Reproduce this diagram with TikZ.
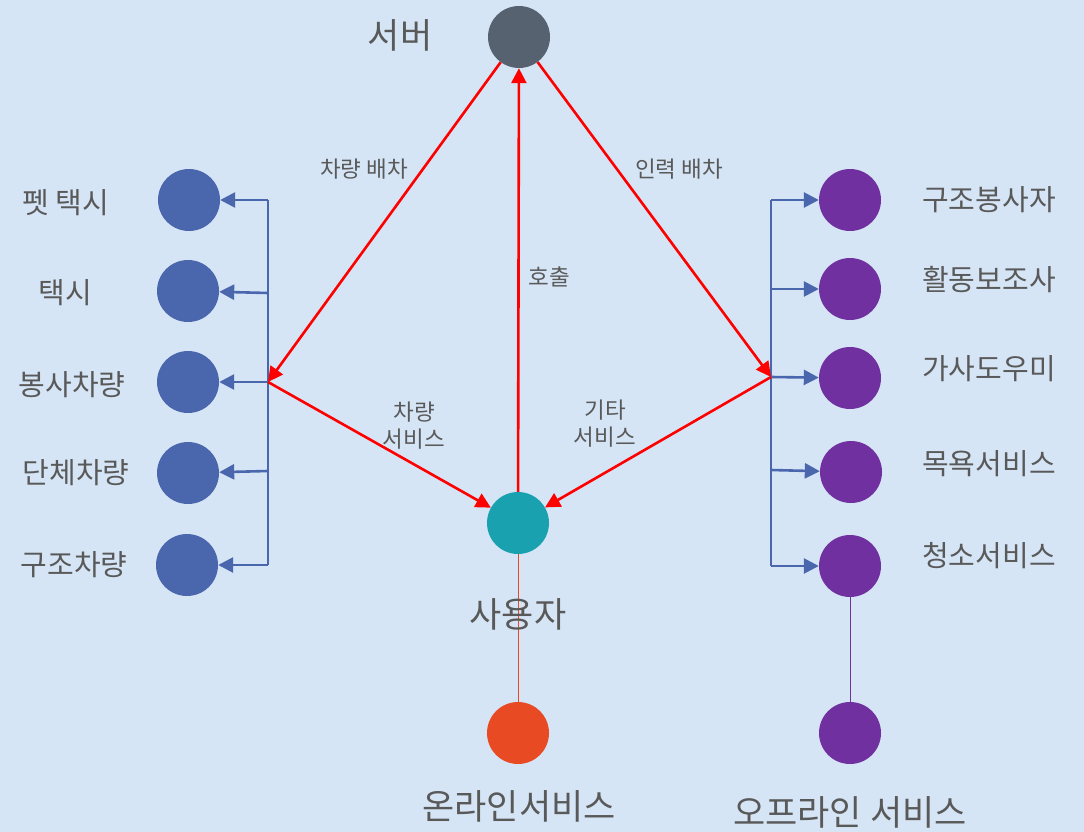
\documentclass[tikz,border=0pt]{standalone}
\usepackage{fontspec}
\setmainfont{Noto Sans CJK KR}
\usetikzlibrary{arrows.meta}
\definecolor{bg}{HTML}{D5E5F5}
\definecolor{srv}{HTML}{566270}
\definecolor{usr}{HTML}{1AA1B0}
\definecolor{onl}{HTML}{E84A23}
\definecolor{prp}{HTML}{7030A0}
\definecolor{blu}{HTML}{4A66AC}
\definecolor{txt}{HTML}{595959}
\tikzset{
  dot/.style={circle, minimum size=62pt, inner sep=0pt, draw=none, fill=#1},
  redarr/.style={draw=red, line width=2.6pt, -{Triangle[length=15pt,width=15pt]}},
  bluarr/.style={draw=blu, line width=2.6pt, -{Triangle[length=15pt,width=15pt]}},
  bluln/.style={draw=blu, line width=2.6pt},
  lbl/.style={text=txt, font=\fontsize{22.5}{27}\selectfont, align=center},
  side/.style={text=txt, font=\fontsize{29}{31}\selectfont},
  big/.style={text=txt, font=\fontsize{35}{37}\selectfont},
}
\begin{document}
\begin{tikzpicture}[x=1pt,y=-1pt]
\fill[bg] (0,0) rectangle (1084,832);
\useasboundingbox (0,0) rectangle (1084,832);
% main nodes
\node[dot=srv] (srv) at (519,37) {};
\node[dot=usr] (usr) at (518,523) {};
\node[dot=onl] (onl) at (518,733) {};
\node[dot=prp] (off) at (850,733) {};
% left circles
\node[dot=blu] (l1) at (189,200) {};
\node[dot=blu] (l2) at (188,291) {};
\node[dot=blu] (l3) at (188,382) {};
\node[dot=blu] (l4) at (188,473) {};
\node[dot=blu] (l5) at (187,565) {};
% right circles
\node[dot=prp] (r1) at (850,200) {};
\node[dot=prp] (r2) at (850,289) {};
\node[dot=prp] (r3) at (850,378) {};
\node[dot=prp] (r4) at (851,472) {};
\node[dot=prp] (r5) at (850,566) {};
% bracket coordinates
\coordinate (lt) at (268,200);
\coordinate (lb2) at (268,293);
\coordinate (lm) at (268,382);
\coordinate (lb4) at (268,471);
\coordinate (lb) at (268,565);
\coordinate (rt) at (771,200);
\coordinate (rb2) at (771,289);
\coordinate (rm) at (771,377);
\coordinate (rb4) at (771,470);
\coordinate (rb) at (771,566);
% thin lines to bottom
\draw[onl, line width=1pt] (usr) -- (onl);
\draw[prp, line width=1pt] (r5) -- (off);
% left bracket
\draw[bluln] (lt) -- (lb);
\draw[bluarr] (lt) -- (l1);
\draw[bluarr] (lb2) -- (l2);
\draw[bluarr] (lm) -- (l3);
\draw[bluarr] (lb4) -- (l4);
\draw[bluarr] (lb) -- (l5);
% right bracket
\draw[bluln] (rt) -- (rb);
\draw[bluarr] (rt) -- (r1);
\draw[bluarr] (rb2) -- (r2);
\draw[bluarr] (rm) -- (r3);
\draw[bluarr] (rb4) -- (r4);
\draw[bluarr] (rb) -- (r5);
% red arrows
\draw[redarr] (srv) -- (lm);
\draw[redarr] (lm) -- (usr);
\draw[redarr] (usr) -- (srv);
\draw[redarr] (srv) -- (rm);
\draw[redarr] (rm) -- (usr);
% labels
\node[big] (tsrv) at (400,35) {서버};
\node[big] (tusr) at (518,614) {사용자};
\node[big] (tonl) at (519,806) {온라인서비스};
\node[big] (toff) at (850,812) {오프라인 서비스};
\node[lbl] (a1) at (364,169) {차량 배차};
\node[lbl] (a2) at (679,169) {인력 배차};
\node[lbl] (a3) at (549,277) {호출};
\node[lbl] (a4) at (414,426) {차량\\서비스};
\node[lbl] (a5) at (605,424) {기타\\서비스};
\node[side] (sl1) at (66,203) {펫 택시};
\node[side] (sl2) at (65,293) {택시};
\node[side] (sl3) at (72,385) {봉사차량};
\node[side] (sl4) at (76,473) {단체차량};
\node[side] (sl5) at (74,565) {구조차량};
\node[side] (sr1) at (989,200) {구조봉사자};
\node[side] (sr2) at (989,280) {활동보조사};
\node[side] (sr3) at (989,369) {가사도우미};
\node[side] (sr4) at (989,464) {목욕서비스};
\node[side] (sr5) at (989,556) {청소서비스};
\end{tikzpicture}
\end{document}
